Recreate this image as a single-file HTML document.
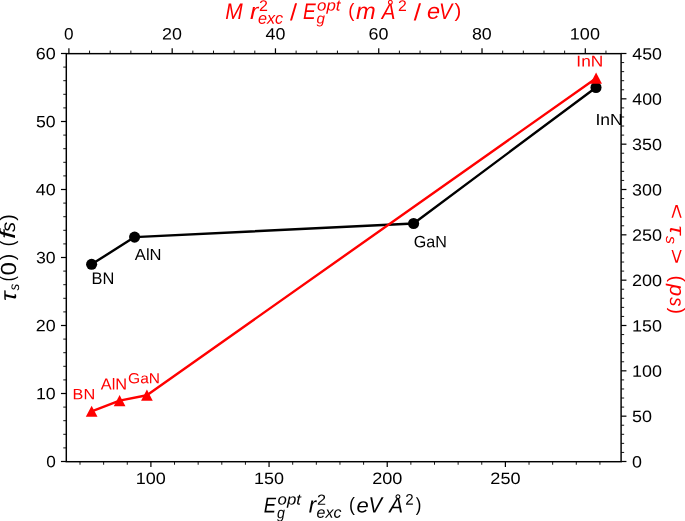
<!DOCTYPE html><html><head><meta charset="utf-8"><style>html,body{margin:0;padding:0;background:#fff;width:685px;height:521px;overflow:hidden}svg{display:block}text{font-family:"Liberation Sans",sans-serif;font-size:20px;text-rendering:geometricPrecision}</style></head><body>
<svg style="will-change:transform" width="685" height="521" viewBox="0 0 685 521">
<rect width="685" height="521" fill="#fff"/>
<g stroke="#000" fill="none"><line x1="60.95" y1="461.50" x2="66.30" y2="461.50" stroke-width="1.22"/><line x1="63.25" y1="447.90" x2="66.30" y2="447.90" stroke-width="0.92"/><line x1="63.25" y1="434.30" x2="66.30" y2="434.30" stroke-width="0.92"/><line x1="63.25" y1="420.70" x2="66.30" y2="420.70" stroke-width="0.92"/><line x1="63.25" y1="407.10" x2="66.30" y2="407.10" stroke-width="0.92"/><line x1="60.95" y1="393.50" x2="66.30" y2="393.50" stroke-width="1.22"/><line x1="63.25" y1="379.90" x2="66.30" y2="379.90" stroke-width="0.92"/><line x1="63.25" y1="366.30" x2="66.30" y2="366.30" stroke-width="0.92"/><line x1="63.25" y1="352.70" x2="66.30" y2="352.70" stroke-width="0.92"/><line x1="63.25" y1="339.10" x2="66.30" y2="339.10" stroke-width="0.92"/><line x1="60.95" y1="325.50" x2="66.30" y2="325.50" stroke-width="1.22"/><line x1="63.25" y1="311.90" x2="66.30" y2="311.90" stroke-width="0.92"/><line x1="63.25" y1="298.30" x2="66.30" y2="298.30" stroke-width="0.92"/><line x1="63.25" y1="284.70" x2="66.30" y2="284.70" stroke-width="0.92"/><line x1="63.25" y1="271.10" x2="66.30" y2="271.10" stroke-width="0.92"/><line x1="60.95" y1="257.50" x2="66.30" y2="257.50" stroke-width="1.22"/><line x1="63.25" y1="243.90" x2="66.30" y2="243.90" stroke-width="0.92"/><line x1="63.25" y1="230.30" x2="66.30" y2="230.30" stroke-width="0.92"/><line x1="63.25" y1="216.70" x2="66.30" y2="216.70" stroke-width="0.92"/><line x1="63.25" y1="203.10" x2="66.30" y2="203.10" stroke-width="0.92"/><line x1="60.95" y1="189.50" x2="66.30" y2="189.50" stroke-width="1.22"/><line x1="63.25" y1="175.90" x2="66.30" y2="175.90" stroke-width="0.92"/><line x1="63.25" y1="162.30" x2="66.30" y2="162.30" stroke-width="0.92"/><line x1="63.25" y1="148.70" x2="66.30" y2="148.70" stroke-width="0.92"/><line x1="63.25" y1="135.10" x2="66.30" y2="135.10" stroke-width="0.92"/><line x1="60.95" y1="121.50" x2="66.30" y2="121.50" stroke-width="1.22"/><line x1="63.25" y1="107.90" x2="66.30" y2="107.90" stroke-width="0.92"/><line x1="63.25" y1="94.30" x2="66.30" y2="94.30" stroke-width="0.92"/><line x1="63.25" y1="80.70" x2="66.30" y2="80.70" stroke-width="0.92"/><line x1="63.25" y1="67.10" x2="66.30" y2="67.10" stroke-width="0.92"/><line x1="60.95" y1="53.50" x2="66.30" y2="53.50" stroke-width="1.22"/><line x1="621.10" y1="461.50" x2="626.45" y2="461.50" stroke-width="1.22"/><line x1="621.10" y1="452.43" x2="624.15" y2="452.43" stroke-width="0.92"/><line x1="621.10" y1="443.37" x2="624.15" y2="443.37" stroke-width="0.92"/><line x1="621.10" y1="434.30" x2="624.15" y2="434.30" stroke-width="0.92"/><line x1="621.10" y1="425.23" x2="624.15" y2="425.23" stroke-width="0.92"/><line x1="621.10" y1="416.17" x2="626.45" y2="416.17" stroke-width="1.22"/><line x1="621.10" y1="407.10" x2="624.15" y2="407.10" stroke-width="0.92"/><line x1="621.10" y1="398.03" x2="624.15" y2="398.03" stroke-width="0.92"/><line x1="621.10" y1="388.97" x2="624.15" y2="388.97" stroke-width="0.92"/><line x1="621.10" y1="379.90" x2="624.15" y2="379.90" stroke-width="0.92"/><line x1="621.10" y1="370.83" x2="626.45" y2="370.83" stroke-width="1.22"/><line x1="621.10" y1="361.77" x2="624.15" y2="361.77" stroke-width="0.92"/><line x1="621.10" y1="352.70" x2="624.15" y2="352.70" stroke-width="0.92"/><line x1="621.10" y1="343.63" x2="624.15" y2="343.63" stroke-width="0.92"/><line x1="621.10" y1="334.57" x2="624.15" y2="334.57" stroke-width="0.92"/><line x1="621.10" y1="325.50" x2="626.45" y2="325.50" stroke-width="1.22"/><line x1="621.10" y1="316.43" x2="624.15" y2="316.43" stroke-width="0.92"/><line x1="621.10" y1="307.37" x2="624.15" y2="307.37" stroke-width="0.92"/><line x1="621.10" y1="298.30" x2="624.15" y2="298.30" stroke-width="0.92"/><line x1="621.10" y1="289.23" x2="624.15" y2="289.23" stroke-width="0.92"/><line x1="621.10" y1="280.17" x2="626.45" y2="280.17" stroke-width="1.22"/><line x1="621.10" y1="271.10" x2="624.15" y2="271.10" stroke-width="0.92"/><line x1="621.10" y1="262.03" x2="624.15" y2="262.03" stroke-width="0.92"/><line x1="621.10" y1="252.97" x2="624.15" y2="252.97" stroke-width="0.92"/><line x1="621.10" y1="243.90" x2="624.15" y2="243.90" stroke-width="0.92"/><line x1="621.10" y1="234.83" x2="626.45" y2="234.83" stroke-width="1.22"/><line x1="621.10" y1="225.77" x2="624.15" y2="225.77" stroke-width="0.92"/><line x1="621.10" y1="216.70" x2="624.15" y2="216.70" stroke-width="0.92"/><line x1="621.10" y1="207.63" x2="624.15" y2="207.63" stroke-width="0.92"/><line x1="621.10" y1="198.57" x2="624.15" y2="198.57" stroke-width="0.92"/><line x1="621.10" y1="189.50" x2="626.45" y2="189.50" stroke-width="1.22"/><line x1="621.10" y1="180.43" x2="624.15" y2="180.43" stroke-width="0.92"/><line x1="621.10" y1="171.37" x2="624.15" y2="171.37" stroke-width="0.92"/><line x1="621.10" y1="162.30" x2="624.15" y2="162.30" stroke-width="0.92"/><line x1="621.10" y1="153.23" x2="624.15" y2="153.23" stroke-width="0.92"/><line x1="621.10" y1="144.17" x2="626.45" y2="144.17" stroke-width="1.22"/><line x1="621.10" y1="135.10" x2="624.15" y2="135.10" stroke-width="0.92"/><line x1="621.10" y1="126.03" x2="624.15" y2="126.03" stroke-width="0.92"/><line x1="621.10" y1="116.97" x2="624.15" y2="116.97" stroke-width="0.92"/><line x1="621.10" y1="107.90" x2="624.15" y2="107.90" stroke-width="0.92"/><line x1="621.10" y1="98.83" x2="626.45" y2="98.83" stroke-width="1.22"/><line x1="621.10" y1="89.77" x2="624.15" y2="89.77" stroke-width="0.92"/><line x1="621.10" y1="80.70" x2="624.15" y2="80.70" stroke-width="0.92"/><line x1="621.10" y1="71.63" x2="624.15" y2="71.63" stroke-width="0.92"/><line x1="621.10" y1="62.57" x2="624.15" y2="62.57" stroke-width="0.92"/><line x1="621.10" y1="53.50" x2="626.45" y2="53.50" stroke-width="1.22"/><line x1="80.00" y1="461.70" x2="80.00" y2="464.75" stroke-width="0.92"/><line x1="103.63" y1="461.70" x2="103.63" y2="464.75" stroke-width="0.92"/><line x1="127.27" y1="461.70" x2="127.27" y2="464.75" stroke-width="0.92"/><line x1="150.90" y1="461.70" x2="150.90" y2="467.05" stroke-width="1.22"/><line x1="174.53" y1="461.70" x2="174.53" y2="464.75" stroke-width="0.92"/><line x1="198.17" y1="461.70" x2="198.17" y2="464.75" stroke-width="0.92"/><line x1="221.80" y1="461.70" x2="221.80" y2="464.75" stroke-width="0.92"/><line x1="245.43" y1="461.70" x2="245.43" y2="464.75" stroke-width="0.92"/><line x1="269.06" y1="461.70" x2="269.06" y2="467.05" stroke-width="1.22"/><line x1="292.70" y1="461.70" x2="292.70" y2="464.75" stroke-width="0.92"/><line x1="316.33" y1="461.70" x2="316.33" y2="464.75" stroke-width="0.92"/><line x1="339.96" y1="461.70" x2="339.96" y2="464.75" stroke-width="0.92"/><line x1="363.60" y1="461.70" x2="363.60" y2="464.75" stroke-width="0.92"/><line x1="387.23" y1="461.70" x2="387.23" y2="467.05" stroke-width="1.22"/><line x1="410.86" y1="461.70" x2="410.86" y2="464.75" stroke-width="0.92"/><line x1="434.50" y1="461.70" x2="434.50" y2="464.75" stroke-width="0.92"/><line x1="458.13" y1="461.70" x2="458.13" y2="464.75" stroke-width="0.92"/><line x1="481.76" y1="461.70" x2="481.76" y2="464.75" stroke-width="0.92"/><line x1="505.39" y1="461.70" x2="505.39" y2="467.05" stroke-width="1.22"/><line x1="529.03" y1="461.70" x2="529.03" y2="464.75" stroke-width="0.92"/><line x1="552.66" y1="461.70" x2="552.66" y2="464.75" stroke-width="0.92"/><line x1="576.29" y1="461.70" x2="576.29" y2="464.75" stroke-width="0.92"/><line x1="599.93" y1="461.70" x2="599.93" y2="464.75" stroke-width="0.92"/><line x1="68.90" y1="48.30" x2="68.90" y2="53.65" stroke-width="1.22"/><line x1="89.56" y1="50.60" x2="89.56" y2="53.65" stroke-width="0.92"/><line x1="110.21" y1="50.60" x2="110.21" y2="53.65" stroke-width="0.92"/><line x1="130.87" y1="50.60" x2="130.87" y2="53.65" stroke-width="0.92"/><line x1="151.52" y1="50.60" x2="151.52" y2="53.65" stroke-width="0.92"/><line x1="172.18" y1="48.30" x2="172.18" y2="53.65" stroke-width="1.22"/><line x1="192.84" y1="50.60" x2="192.84" y2="53.65" stroke-width="0.92"/><line x1="213.49" y1="50.60" x2="213.49" y2="53.65" stroke-width="0.92"/><line x1="234.15" y1="50.60" x2="234.15" y2="53.65" stroke-width="0.92"/><line x1="254.80" y1="50.60" x2="254.80" y2="53.65" stroke-width="0.92"/><line x1="275.46" y1="48.30" x2="275.46" y2="53.65" stroke-width="1.22"/><line x1="296.12" y1="50.60" x2="296.12" y2="53.65" stroke-width="0.92"/><line x1="316.77" y1="50.60" x2="316.77" y2="53.65" stroke-width="0.92"/><line x1="337.43" y1="50.60" x2="337.43" y2="53.65" stroke-width="0.92"/><line x1="358.08" y1="50.60" x2="358.08" y2="53.65" stroke-width="0.92"/><line x1="378.74" y1="48.30" x2="378.74" y2="53.65" stroke-width="1.22"/><line x1="399.40" y1="50.60" x2="399.40" y2="53.65" stroke-width="0.92"/><line x1="420.05" y1="50.60" x2="420.05" y2="53.65" stroke-width="0.92"/><line x1="440.71" y1="50.60" x2="440.71" y2="53.65" stroke-width="0.92"/><line x1="461.36" y1="50.60" x2="461.36" y2="53.65" stroke-width="0.92"/><line x1="482.02" y1="48.30" x2="482.02" y2="53.65" stroke-width="1.22"/><line x1="502.68" y1="50.60" x2="502.68" y2="53.65" stroke-width="0.92"/><line x1="523.33" y1="50.60" x2="523.33" y2="53.65" stroke-width="0.92"/><line x1="543.99" y1="50.60" x2="543.99" y2="53.65" stroke-width="0.92"/><line x1="564.64" y1="50.60" x2="564.64" y2="53.65" stroke-width="0.92"/><line x1="585.30" y1="48.30" x2="585.30" y2="53.65" stroke-width="1.22"/><line x1="605.96" y1="50.60" x2="605.96" y2="53.65" stroke-width="0.92"/></g>
<polyline points="91.60,264.30 134.60,237.10 413.60,223.50 596.00,87.50" fill="none" stroke="#000" stroke-width="2.4" stroke-linejoin="round"/>
<circle cx="91.60" cy="264.30" r="5.55" fill="#000"/>
<circle cx="134.60" cy="237.10" r="5.55" fill="#000"/>
<circle cx="413.60" cy="223.50" r="5.55" fill="#000"/>
<circle cx="596.00" cy="87.50" r="5.55" fill="#000"/>
<rect x="66.30" y="53.65" width="554.80" height="408.05" fill="none" stroke="#000" stroke-width="1.45"/>
<text transform="matrix(0.8595 0.0010 0.0000 0.8169 46.148 467.337)" fill="#000">0</text>
<text transform="matrix(0.8878 0.0010 0.0000 0.8169 35.913 399.337)" fill="#000">10</text>
<text transform="matrix(0.8953 0.0010 0.0000 0.8169 35.750 331.337)" fill="#000">20</text>
<text transform="matrix(0.8843 0.0010 0.0000 0.8169 35.987 263.337)" fill="#000">30</text>
<text transform="matrix(0.8949 0.0010 0.0000 0.8169 35.761 195.337)" fill="#000">40</text>
<text transform="matrix(0.8836 0.0010 0.0000 0.8169 36.003 127.337)" fill="#000">50</text>
<text transform="matrix(0.8977 0.0010 0.0000 0.8169 35.699 59.337)" fill="#000">60</text>
<text transform="matrix(0.8947 0.0010 0.0000 0.8169 632.084 467.437)" fill="#000">0</text>
<text transform="matrix(0.8986 0.0010 0.0000 0.8169 632.081 422.103)" fill="#000">50</text>
<text transform="matrix(0.8971 0.0010 0.0000 0.8169 632.054 376.770)" fill="#000">100</text>
<text transform="matrix(0.8971 0.0010 0.0000 0.8169 632.054 331.437)" fill="#000">150</text>
<text transform="matrix(0.9019 0.0010 0.0000 0.8169 631.898 286.103)" fill="#000">200</text>
<text transform="matrix(0.9019 0.0010 0.0000 0.8169 631.898 240.770)" fill="#000">250</text>
<text transform="matrix(0.8962 0.0010 0.0000 0.8169 632.083 195.437)" fill="#000">300</text>
<text transform="matrix(0.8962 0.0010 0.0000 0.8169 632.083 150.103)" fill="#000">350</text>
<text transform="matrix(0.8879 0.0010 0.0000 0.8169 632.356 104.770)" fill="#000">400</text>
<text transform="matrix(0.8879 0.0010 0.0000 0.8169 632.356 59.437)" fill="#000">450</text>
<text transform="matrix(0.8595 0.0010 0.0000 0.8239 64.030 39.435)" fill="#000">0</text>
<text transform="matrix(0.8953 0.0010 0.0000 0.8239 162.007 39.435)" fill="#000">20</text>
<text transform="matrix(0.8949 0.0010 0.0000 0.8239 265.517 39.435)" fill="#000">40</text>
<text transform="matrix(0.8977 0.0010 0.0000 0.8239 368.541 39.435)" fill="#000">60</text>
<text transform="matrix(0.8934 0.0010 0.0000 0.8239 471.914 39.435)" fill="#000">80</text>
<text transform="matrix(0.9022 0.0010 0.0000 0.8239 569.818 39.435)" fill="#000">100</text>
<text transform="matrix(0.9022 0.0010 0.0000 0.8239 135.718 483.935)" fill="#000">100</text>
<text transform="matrix(0.9012 0.0010 0.0000 0.8239 253.900 483.935)" fill="#000">150</text>
<text transform="matrix(0.9069 0.0010 0.0000 0.8239 372.194 483.935)" fill="#000">200</text>
<text transform="matrix(0.9069 0.0010 0.0000 0.8239 490.359 483.935)" fill="#000">250</text>
<text transform="matrix(0.8211 0.0010 0.0000 0.8406 91.586 284.100)" fill="#000">BN</text>
<text transform="matrix(0.8295 0.0010 0.0000 0.8069 134.817 259.900)" fill="#000">AlN</text>
<text transform="matrix(0.8052 0.0010 0.0000 0.8239 413.695 247.135)" fill="#000">GaN</text>
<text transform="matrix(0.8773 0.0010 0.0000 0.8043 595.421 124.900)" fill="#000">InN</text>
<text transform="matrix(0.9225 0.0010 0.0000 1.0797 263.647 512.600)" fill="#000" font-style="italic">E</text>
<text transform="matrix(0.8417 0.0010 0.0000 0.7602 277.611 504.407)" fill="#000" font-style="italic">opt</text>
<text transform="matrix(0.7130 0.0010 0.0000 0.8000 276.929 518.240)" fill="#000" font-style="italic">g</text>
<text transform="matrix(1.1143 0.0010 0.0000 1.1296 308.666 512.600)" fill="#000" font-style="italic">r</text>
<text transform="matrix(0.8132 0.0010 0.0000 0.7357 316.887 504.800)" fill="#000">2</text>
<text transform="matrix(0.7980 0.0010 0.0000 0.7909 316.541 517.842)" fill="#000" font-style="italic">exc</text>
<text transform="matrix(0.8868 0.0010 0.0000 0.9733 349.036 510.912)" fill="#000">(</text>
<text transform="matrix(1.1031 0.0010 0.0000 1.0545 356.428 512.389)" fill="#000" font-style="italic">e</text>
<text transform="matrix(1.0152 0.0010 0.0000 1.1014 368.574 512.600)" fill="#000" font-style="italic">V</text>
<text transform="matrix(1.0382 0.0010 0.0000 1.0514 389.134 512.400)" fill="#000" font-style="italic">Å</text>
<text transform="matrix(0.7582 0.0010 0.0000 0.7714 405.142 504.800)" fill="#000">2</text>
<text transform="matrix(0.8462 0.0010 0.0000 0.9465 415.831 510.925)" fill="#000">)</text>
<text transform="matrix(0.0000 -0.9808 0.9840 0.0000 13.967 220.796)" fill="#000">)</text>
<text transform="matrix(0.0000 -1.5152 1.0966 0.0000 15.200 238.961)" fill="#000" font-style="italic">f</text>
<text transform="matrix(0.0000 -1.0105 0.9909 0.0000 15.202 232.101)" fill="#000" font-style="italic">s</text>
<text transform="matrix(0.0000 -0.8491 0.9840 0.0000 13.967 246.219)" fill="#000">(</text>
<text transform="matrix(0.0000 -0.9615 0.9786 0.0000 13.890 260.192)" fill="#000">)</text>
<text transform="matrix(0.0000 -1.2105 1.0915 0.0000 15.782 275.468)" fill="#000">0</text>
<text transform="matrix(0.0000 -0.7547 0.9786 0.0000 13.890 281.306)" fill="#000">(</text>
<text transform="matrix(0.0000 -0.6737 0.7091 0.0000 18.658 290.467)" fill="#000" font-style="italic">s</text>
<text transform="matrix(0.0000 -1.2778 1.1111 0.2556 15.778 302.753)" fill="#000">τ</text>
<polyline points="91.65,411.30 119.60,400.60 146.90,395.20 596.10,78.20" fill="none" stroke="#f00" stroke-width="2.4" stroke-linejoin="round"/>
<polygon points="91.65,405.65 85.80,416.85 97.50,416.85" fill="#f00"/>
<polygon points="119.60,394.95 113.75,406.15 125.45,406.15" fill="#f00"/>
<polygon points="146.90,389.55 141.05,400.75 152.75,400.75" fill="#f00"/>
<polygon points="596.10,72.55 590.25,83.75 601.95,83.75" fill="#f00"/>
<text transform="matrix(0.8130 0.0010 0.0000 0.7536 72.599 399.200)" fill="#f00">BN</text>
<text transform="matrix(0.8197 0.0010 0.0000 0.7931 100.718 389.500)" fill="#f00">AlN</text>
<text transform="matrix(0.7766 0.0010 0.0000 0.7324 128.123 383.154)" fill="#f00">GaN</text>
<text transform="matrix(0.8628 0.0010 0.0000 0.7899 576.347 66.600)" fill="#f00">InN</text>
<text transform="matrix(1.0497 0.0010 0.0000 1.1232 225.170 19.000)" fill="#f00" font-style="italic">M</text>
<text transform="matrix(1.2571 0.0010 0.0000 1.1481 249.923 19.000)" fill="#f00" font-style="italic">r</text>
<text transform="matrix(0.8022 0.0010 0.0000 0.7786 258.898 11.100)" fill="#f00">2</text>
<text transform="matrix(0.8113 0.0010 0.0000 0.8182 257.932 23.736)" fill="#f00" font-style="italic">exc</text>
<text transform="matrix(1.2727 0.0010 0.0000 1.1701 290.000 20.166)" fill="#f00">/</text>
<text transform="matrix(0.9535 0.0010 0.0000 1.1232 302.928 19.000)" fill="#f00" font-style="italic">E</text>
<text transform="matrix(0.8453 0.0010 0.0000 0.7661 317.008 10.482)" fill="#f00" font-style="italic">opt</text>
<text transform="matrix(0.7593 0.0010 0.0000 0.7467 316.524 23.564)" fill="#f00" font-style="italic">g</text>
<text transform="matrix(0.9245 0.0010 0.0000 0.9679 348.191 16.935)" fill="#f00">(</text>
<text transform="matrix(1.1830 0.0010 0.0000 1.1682 355.927 19.000)" fill="#f00" font-style="italic">m</text>
<text transform="matrix(1.0305 0.0010 0.0000 1.1086 381.827 19.000)" fill="#f00" font-style="italic">Å</text>
<text transform="matrix(0.7912 0.0010 0.0000 0.7786 397.909 11.100)" fill="#f00">2</text>
<text transform="matrix(1.3091 0.0010 0.0000 1.1701 413.800 20.166)" fill="#f00">/</text>
<text transform="matrix(1.1753 0.0010 0.0000 1.1182 426.977 18.776)" fill="#f00" font-style="italic">e</text>
<text transform="matrix(0.9924 0.0010 0.0000 1.1232 439.113 19.000)" fill="#f00" font-style="italic">V</text>
<text transform="matrix(1.0192 0.0010 0.0000 0.9679 454.596 16.935)" fill="#f00">)</text>
<text transform="matrix(0.0000 1.2990 -1.0000 0.0000 669.600 203.801)" fill="#f00">&lt;</text>
<text transform="matrix(0.0000 1.2032 -1.0463 -0.2406 670.209 224.091)" fill="#f00">τ</text>
<text transform="matrix(0.0000 0.8000 -0.7727 0.0000 666.255 236.020)" fill="#f00" font-style="italic">s</text>
<text transform="matrix(0.0000 1.3093 -1.0000 0.0000 669.600 248.691)" fill="#f00">&gt;</text>
<text transform="matrix(0.0000 1.0000 -0.9786 0.0000 671.310 275.500)" fill="#f00">(</text>
<text transform="matrix(0.0000 1.0909 -1.0268 0.0000 669.613 283.945)" fill="#f00" font-style="italic">p</text>
<text transform="matrix(0.0000 0.9053 -1.0000 0.0000 669.800 297.309)" fill="#f00" font-style="italic">s</text>
<text transform="matrix(0.0000 0.9231 -0.9786 0.0000 671.310 307.715)" fill="#f00">)</text>
</svg></body></html>
